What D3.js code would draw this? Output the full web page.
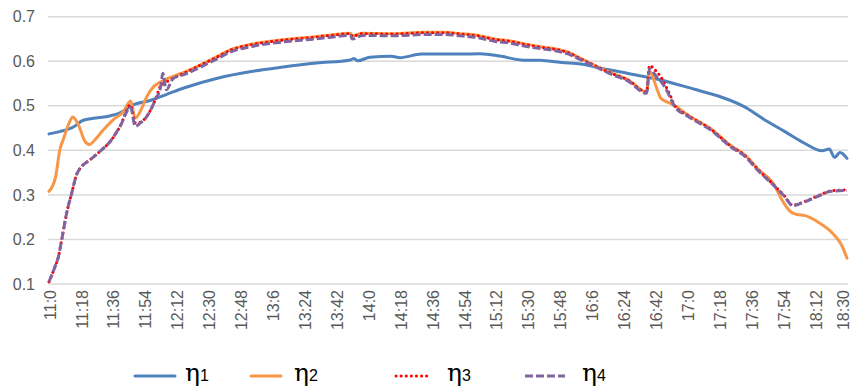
<!DOCTYPE html>
<html><head><meta charset="utf-8">
<script src="https://cdn.jsdelivr.net/npm/d3@7"></script>
<style>html,body{margin:0;padding:0;background:#fff;}svg{display:block;}</style>
</head><body>
<svg id="chart" width="851" height="389"></svg>
<script>
// tick labels (every 18 minutes from 11:00)
const tickLabels = ["11:0","11:18","11:36","11:54","12:12","12:30","12:48","13:6","13:24","13:42","14:0","14:18","14:36","14:54","15:12","15:30","15:48","16:6","16:24","16:42","17:0","17:18","17:36","17:54","18:12","18:30"];
const yTicks = [0.1,0.2,0.3,0.4,0.5,0.6,0.7];
const seriesNames = ["1","2","3","4"];

// minutes after 11:00 / values
const t1 = [0,6,14,19,25,33,40,48,57,66,76,95,114,132,151,170,172,174,181,193,198,210,227,243,255,266,277,289,300,307,326,345,364,373,381,392,403,415,426,436,440,443,446,450];
const eta1 = [0.437,0.442,0.453,0.467,0.472,0.476,0.484,0.503,0.512,0.525,0.540,0.562,0.577,0.587,0.596,0.603,0.606,0.601,0.609,0.611,0.608,0.616,0.616,0.617,0.611,0.603,0.602,0.597,0.594,0.588,0.573,0.558,0.537,0.527,0.517,0.498,0.470,0.442,0.416,0.399,0.403,0.384,0.395,0.382];

const t2 = [0,3.7,6.2,8,11,13.4,16.6,20.3,22.8,26,30.7,36.3,42,46,48.6,51.4,55.2,59,61.8,65.5,72,76,95,102.5,114,125,136,147.5,159,170,171,177,194.5,211,223,232,242,251,261,268,278,285,293,300,307,317,326.4,337,338.6,343,345,348.9,350.7,352.7,360,373,384.7,392,399.8,409,413,418.6,422,426,433.6,443,447,450];
const eta2 = [0.308,0.34,0.403,0.424,0.458,0.475,0.457,0.42,0.413,0.424,0.446,0.469,0.487,0.511,0.472,0.487,0.521,0.543,0.551,0.559,0.569,0.575,0.611,0.626,0.638,0.645,0.650,0.654,0.659,0.663,0.657,0.663,0.662,0.665,0.665,0.662,0.658,0.650,0.645,0.639,0.632,0.628,0.620,0.606,0.592,0.574,0.559,0.531,0.577,0.536,0.517,0.508,0.505,0.501,0.480,0.449,0.410,0.391,0.358,0.322,0.291,0.261,0.256,0.254,0.239,0.209,0.187,0.158];

const t3 = [0,3.4,5.3,7.2,10,12.8,15.6,18.5,23.2,28.8,34.5,40.1,46,48.6,51.4,55.2,59.9,63,64.2,66.1,70.2,76,95,102.5,114,125,136,147.5,159,170,171,177,194.5,211,223,232,242,251,261,268,278,285,293,300,307,317,326.4,337,338.6,343,345,348.9,350.7,352.7,360,373,384.7,392,399.8,409,414.7,419.4,426,433.6,441,450];
const eta3 = [0.105,0.139,0.161,0.2,0.26,0.304,0.346,0.364,0.379,0.398,0.42,0.454,0.502,0.462,0.463,0.477,0.513,0.545,0.548,0.553,0.562,0.573,0.610,0.625,0.637,0.644,0.649,0.653,0.658,0.662,0.656,0.662,0.661,0.664,0.664,0.661,0.657,0.649,0.644,0.638,0.631,0.627,0.619,0.605,0.592,0.573,0.558,0.531,0.590,0.575,0.565,0.535,0.52,0.501,0.479,0.448,0.409,0.390,0.357,0.321,0.298,0.277,0.285,0.298,0.309,0.311];
const eta4 = [0.105,0.139,0.161,0.2,0.26,0.304,0.346,0.364,0.379,0.398,0.42,0.454,0.497,0.454,0.461,0.476,0.513,0.543,0.573,0.536,0.562,0.570,0.606,0.621,0.633,0.640,0.645,0.649,0.654,0.658,0.650,0.658,0.657,0.660,0.660,0.657,0.653,0.645,0.640,0.634,0.628,0.624,0.616,0.603,0.590,0.571,0.556,0.528,0.583,0.563,0.555,0.530,0.515,0.499,0.477,0.446,0.407,0.388,0.355,0.320,0.297,0.276,0.284,0.297,0.308,0.310];

const svg = d3.select("#chart");
svg.append("rect").attr("width",851).attr("height",389).attr("fill","#fff");

const x = d3.scaleLinear().domain([0,450]).range([49,847]);
const y = d3.scaleLinear().domain([0.1,0.7]).range([284,16.7]);

// gridlines
svg.append("g").selectAll("line").data(yTicks).join("line")
  .attr("x1",48).attr("x2",848)
  .attr("y1",d=>y(d)).attr("y2",d=>y(d))
  .attr("stroke","#D9D9D9").attr("stroke-width",1.5);

// y labels
svg.append("g").selectAll("text").data(yTicks).join("text")
  .attr("x",35).attr("y",d=>y(d)).attr("dy","0.35em")
  .attr("text-anchor","end")
  .attr("font-family","'Liberation Sans', Arial, sans-serif").attr("font-size",16)
  .attr("fill","#595959").text(d=>d.toFixed(1));

// x labels
svg.append("g").selectAll("text").data(tickLabels).join("text")
  .attr("transform",(d,i)=>`translate(${Math.min(x(i*18)+1, 843)},290) rotate(-90)`)
  .attr("dy","0.35em").attr("text-anchor","end")
  .attr("font-family","'Liberation Sans', Arial, sans-serif").attr("font-size",16)
  .attr("fill","#595959").text(d=>d);

const line = d3.line().x(d=>x(d[0])).y(d=>y(d[1])).curve(d3.curveMonotoneX);
const zip = (t,v)=>t.map((m,i)=>[m,v[i]]);

const styles = [
  {data: zip(t1,eta1), color:"#4F81BD", w:3, dash:null, cap:"round"},
  {data: zip(t2,eta2), color:"#F79646", w:3, dash:null, cap:"round"},
  {data: zip(t3,eta3), color:"#FF0000", w:3, dash:"0.1,5", cap:"round"},
  {data: zip(t3,eta4), color:"#8064A2", w:3, dash:"8,3", cap:"butt"}
];

svg.append("g").selectAll("path").data(styles).join("path")
  .attr("d",d=>line(d.data))
  .attr("fill","none")
  .attr("stroke",d=>d.color)
  .attr("stroke-width",d=>d.w)
  .attr("stroke-linejoin","round")
  .attr("stroke-linecap",d=>d.cap)
  .attr("stroke-dasharray",d=>d.dash);

// legend
const legendItems = [
  {x1:135,x2:175,tx:185},
  {x1:251,x2:281,tx:294},
  {x1:396,x2:431,tx:447},
  {x1:525,x2:565,tx:582}
];
const lg = svg.append("g");
legendItems.forEach((it,i)=>{
  const s = styles[i];
  lg.append("line").attr("x1",it.x1).attr("x2",it.x2).attr("y1",376).attr("y2",376)
    .attr("stroke",s.color).attr("stroke-width",s.w)
    .attr("stroke-linecap",s.cap).attr("stroke-dasharray",s.dash);
  const t = lg.append("text").attr("x",it.tx).attr("y",381).attr("fill","#000");
  t.append("tspan").attr("font-family","'DejaVu Serif', serif").attr("font-size",25).text("η");
  t.append("tspan").attr("font-family","'Liberation Sans', Arial, sans-serif").attr("font-size",16).text(seriesNames[i]);
});
</script>
</body></html>
